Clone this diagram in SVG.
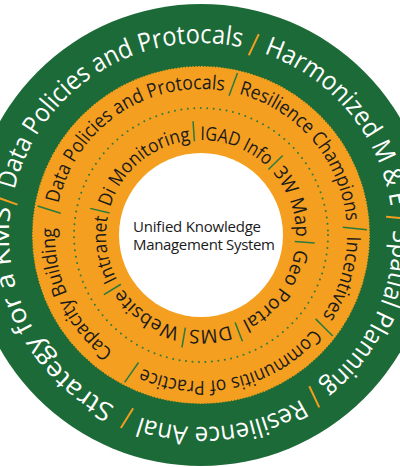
<svg xmlns="http://www.w3.org/2000/svg" xmlns:xlink="http://www.w3.org/1999/xlink" width="400" height="467" viewBox="0 0 400 467">
<style>
.ring{font-family:"Open Sans","Noto Sans","Liberation Sans",sans-serif}
.outer{font-size:26px;fill:#ffffff}
.mid{font-size:19.5px;fill:#1a1a1a}
.inn{font-size:19px;fill:#1a1a1a}
.ctr{font-family:"Open Sans","Noto Sans","Liberation Sans",sans-serif;font-size:15px;fill:#1a1a1a}
.sO{stroke:#f39e1e;stroke-width:2}
.sG{stroke:#2a7a3e;stroke-width:1.5}
</style>
<defs>
<path id="pO" d="M201,43 A192,192 0 0 1 201,427 A192,192 0 0 1 201,43 A192,192 0 0 1 201,427 A192,192 0 0 1 201,43" fill="none"/>
<path id="pM" d="M201,89 A146,146 0 0 1 201,381 A146,146 0 0 1 201,89 A146,146 0 0 1 201,381 A146,146 0 0 1 201,89" fill="none"/>
<path id="pI" d="M201,140 A95,95 0 0 1 201,330 A95,95 0 0 1 201,140 A95,95 0 0 1 201,330 A95,95 0 0 1 201,140" fill="none"/>
<line id="sepO" class="sO" x1="199" y1="49" x2="203" y2="26"/>
<line id="sepM" class="sG" x1="199.5" y1="93" x2="203" y2="69"/>
<line id="sepI" class="sG" x1="201" y1="141" x2="201" y2="121"/>
</defs>
<g id="rings">
<circle cx="201" cy="235" r="231" fill="#1c6a37"/>
<circle cx="201" cy="235" r="169" fill="#f49f1f"/>
<circle cx="201" cy="235" r="169" fill="none" stroke="#1c6a37" stroke-width="1.5" stroke-dasharray="1 2"/>
<circle cx="201" cy="235" r="127" fill="none" stroke="#2a7a3e" stroke-width="2" stroke-linecap="round" stroke-dasharray="0 6.5"/>
<circle cx="201" cy="235" r="82" fill="#ffffff"/>
</g>
<g id="outer-ring" class="ring outer" text-anchor="middle">
<text><textPath xlink:href="#pO" startOffset="1098.3" textLength="296.6" lengthAdjust="spacingAndGlyphs">Data Policies and Protocals</textPath></text>
<text><textPath xlink:href="#pO" startOffset="168.4" textLength="209.4" lengthAdjust="spacingAndGlyphs">Harmonized M &amp; E</textPath></text>
<text><textPath xlink:href="#pO" startOffset="385.4" textLength="177.6" lengthAdjust="spacingAndGlyphs">Spatial Planning</textPath></text>
<text><textPath xlink:href="#pO" startOffset="581.4" textLength="167.6" lengthAdjust="spacingAndGlyphs">Resilience Anal</textPath></text>
<text><textPath xlink:href="#pO" startOffset="812" textLength="240" lengthAdjust="spacingAndGlyphs">Strategy for a KMS</textPath></text>
</g>
<g id="mid-ring" class="ring mid" text-anchor="middle">
<text><textPath xlink:href="#pM" startOffset="829.9" textLength="220.7" lengthAdjust="spacingAndGlyphs">Data Policies and Protocals</textPath></text>
<text><textPath xlink:href="#pM" startOffset="126.8" textLength="177.1" lengthAdjust="spacingAndGlyphs">Resilience Champions</textPath></text>
<text><textPath xlink:href="#pM" startOffset="273" textLength="84.9" lengthAdjust="spacingAndGlyphs">Incentives</textPath></text>
<text><textPath xlink:href="#pM" startOffset="424.9" textLength="188.3" lengthAdjust="spacingAndGlyphs">Communitis of Practice</textPath></text>
<text><textPath xlink:href="#pM" startOffset="623.8" textLength="141.7" lengthAdjust="spacingAndGlyphs">Capacity Building</textPath></text>
</g>
<g id="inner-ring" class="ring inn" text-anchor="middle">
<text><textPath xlink:href="#pI" startOffset="432.7" textLength="64.8" lengthAdjust="spacingAndGlyphs">Intranet</textPath></text>
<text><textPath xlink:href="#pI" startOffset="530.2" textLength="110.3" lengthAdjust="spacingAndGlyphs">Di Monitoring</textPath></text>
<text><textPath xlink:href="#pI" startOffset="631.6" textLength="72.6" lengthAdjust="spacingAndGlyphs">IGAD Info</textPath></text>
<text><textPath xlink:href="#pI" startOffset="115.9" textLength="70" lengthAdjust="spacingAndGlyphs">3W Map</textPath></text>
<text><textPath xlink:href="#pI" startOffset="209.5" textLength="93" lengthAdjust="spacingAndGlyphs">Geo Portal</textPath></text>
<text><textPath xlink:href="#pI" startOffset="288.8" textLength="41.3" lengthAdjust="spacingAndGlyphs">DMS</textPath></text>
<text><textPath xlink:href="#pI" startOffset="354.8" textLength="71" lengthAdjust="spacingAndGlyphs">Website</textPath></text>
</g>
<g id="separators">
<use xlink:href="#sepO" transform="rotate(15.5 201 235)"/>
<use xlink:href="#sepO" transform="rotate(85 201 235)"/>
<use xlink:href="#sepO" transform="rotate(145 201 235)"/>
<use xlink:href="#sepO" transform="rotate(202 201 235)"/>
<use xlink:href="#sepO" transform="rotate(280 201 235)"/>
<use xlink:href="#sepM" transform="rotate(12 201 235)"/>
<use xlink:href="#sepM" transform="rotate(87.5 201 235)"/>
<use xlink:href="#sepM" transform="rotate(126.8 201 235)"/>
<use xlink:href="#sepM" transform="rotate(206.7 201 235)"/>
<use xlink:href="#sepM" transform="rotate(279.4 201 235)"/>
<use xlink:href="#sepI" transform="rotate(238.4 201 235)"/>
<use xlink:href="#sepI" transform="rotate(283.5 201 235)"/>
<use xlink:href="#sepI" transform="rotate(356 201 235)"/>
<use xlink:href="#sepI" transform="rotate(45.8 201 235)"/>
<use xlink:href="#sepI" transform="rotate(94 201 235)"/>
<use xlink:href="#sepI" transform="rotate(158.7 201 235)"/>
<use xlink:href="#sepI" transform="rotate(189.6 201 235)"/>
</g>
<g id="center">
<text class="ctr" x="133" y="232" textLength="128" lengthAdjust="spacing">Unified Knowledge</text>
<text class="ctr" x="133" y="250" textLength="142" lengthAdjust="spacing">Management System</text>
</g>
</svg>
